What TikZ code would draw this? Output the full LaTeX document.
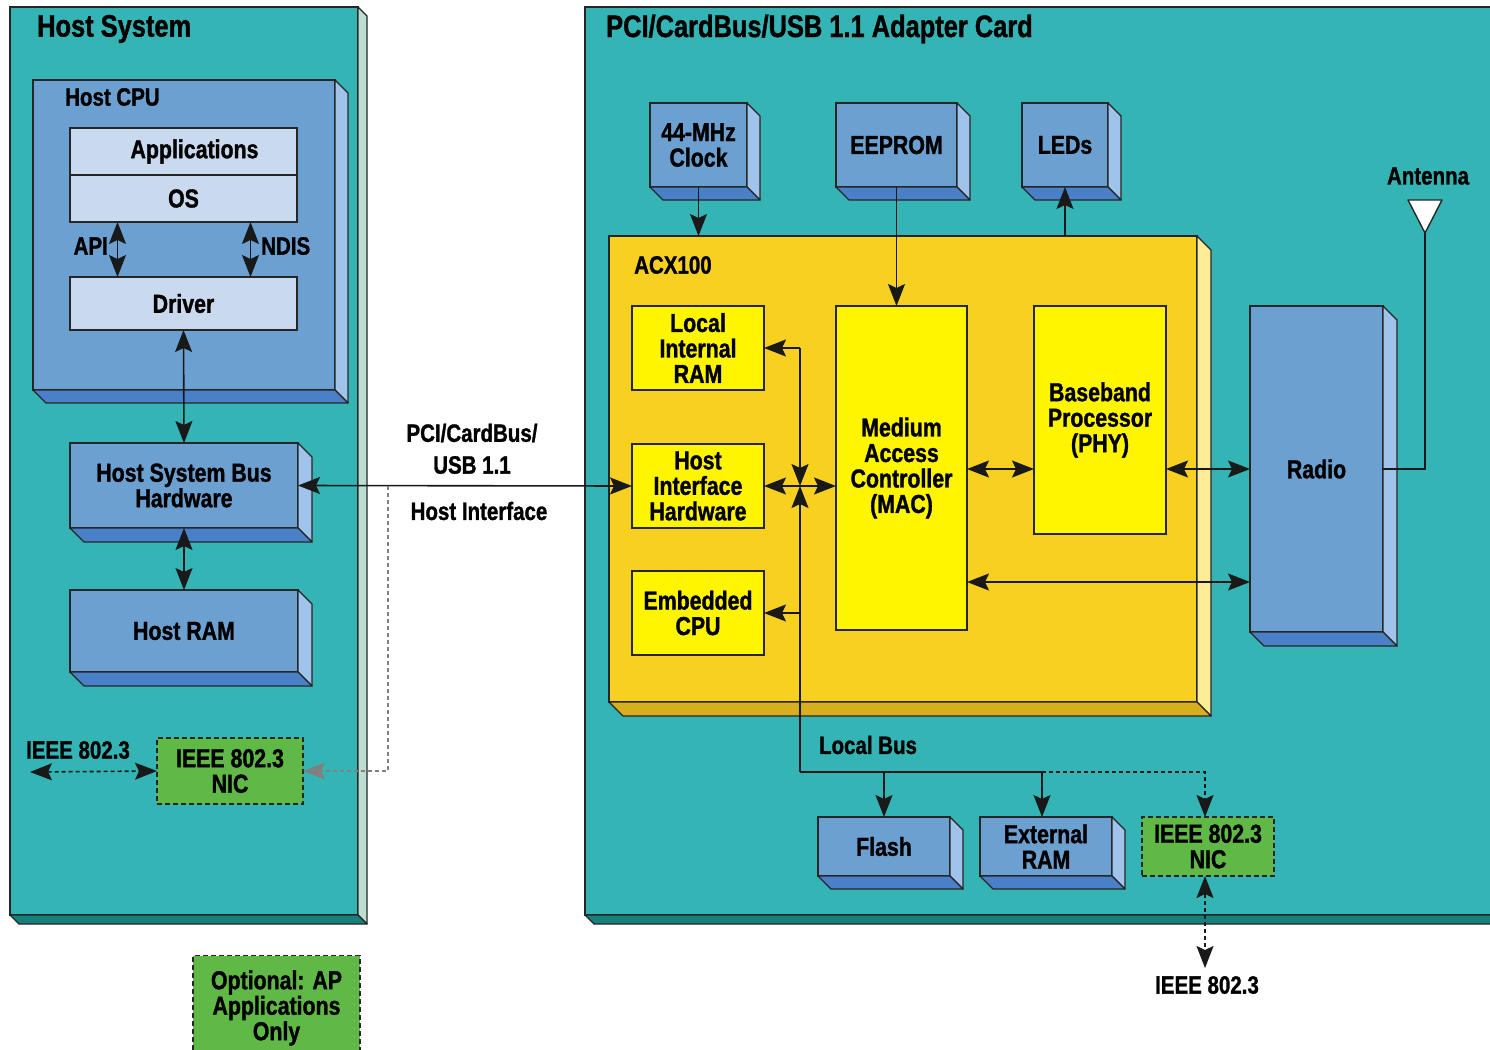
\documentclass[tikz,border=0pt]{standalone}
\usepackage{fontspec}
\setmainfont{Liberation Sans}[FakeStretch=0.82,BoldFeatures={FakeStretch=0.82,FakeBold=1.2}]
\usetikzlibrary{arrows.meta}
\definecolor{teal0}{RGB}{52,180,180}
\definecolor{tealside}{RGB}{190,222,212}
\definecolor{tealbot}{RGB}{22,128,122}
\definecolor{blue0}{RGB}{107,160,208}
\definecolor{blueside}{RGB}{160,195,235}
\definecolor{bluebot}{RGB}{74,128,200}
\definecolor{lightb}{RGB}{202,218,238}
\definecolor{gold0}{RGB}{248,208,32}
\definecolor{goldside}{RGB}{255,236,150}
\definecolor{goldbot}{RGB}{214,174,30}
\definecolor{yel0}{RGB}{255,245,0}
\definecolor{green0}{RGB}{96,185,70}
\newcommand\fTitle{\fontsize{31}{31}\selectfont\bfseries}
\newcommand\fBox{\fontsize{26}{25.5}\selectfont\bfseries}
\newcommand\fLab{\fontsize{25}{25}\selectfont\bfseries}
\newcommand\mkfaces[4]{%
  \draw[face,fill=#3] (#1.north east) -- ++(#2,#2) -- ([shift={(#2,#2)}]#1.south east) -- (#1.south east) -- cycle;
  \draw[face,fill=#4] (#1.south west) -- ([shift={(#2,#2)}]#1.south west) -- ([shift={(#2,#2)}]#1.south east) -- (#1.south east) -- cycle;}
\tikzset{
  face/.style={draw=black!85,line width=1.3pt,line join=round},
  blk/.style={draw=black!85,line width=1.4pt,outer sep=0pt,inner sep=0pt,align=center,font=\fBox},
  panel/.style={blk,line width=1.8pt,fill=teal0},
  cpubox/.style={blk,fill=blue0},
  lbox/.style={blk,fill=lightb},
  bbox/.style={blk,fill=blue0},
  acxbox/.style={blk,fill=gold0},
  ybox/.style={blk,fill=yel0},
  gbox/.style={blk,fill=green0,dashed,dash pattern=on 5pt off 3pt},
  lab/.style={font=\fLab,inner sep=0pt,align=center},
  ln/.style={line width=1.6pt,draw=black!90},
  arr/.style={ln,-{Stealth[length=22pt,width=17pt,inset=4pt]}},
  arr2/.style={ln,{Stealth[length=22pt,width=17pt,inset=4pt]}-{Stealth[length=22pt,width=17pt,inset=4pt]}},
  darr/.style={arr2,dashed,dash pattern=on 4pt off 3pt},
}
\begin{document}
\begin{tikzpicture}[x=1pt,y=-1pt]
\useasboundingbox[fill=white] (0,0) rectangle (1490,1049);
% panels
\node[panel,minimum width=348,minimum height=908] (hostsys) at (184,461) {};
\mkfaces{hostsys}{9}{tealside}{tealbot}
\node[panel,minimum width=915,minimum height=908] (card) at (1042.5,461) {};
\mkfaces{card}{9}{tealside}{tealbot}
\node[lab,font=\fTitle,anchor=west] (tHost) at (37,29) {Host System};
\node[lab,font=\fTitle,anchor=west] (tCard) at (606,29) {PCI/CardBus/USB 1.1 Adapter Card};
% host CPU
\node[cpubox,minimum width=302,minimum height=310] (cpu) at (184,235) {};
\mkfaces{cpu}{13}{blueside}{bluebot}
\node[lab,anchor=west] (tCPU) at (65,97) {Host CPU};
\node[lbox,minimum width=227,minimum height=47] (apps) at (183.5,151.5) {\hspace*{22pt}Applications};
\node[lbox,minimum width=227,minimum height=47] (os) at (183.5,198.5) {OS};
\node[lbox,minimum width=227,minimum height=53] (drv) at (183.5,303.5) {Driver};
\draw[arr2] ([xshift=-66pt]os.south) -- ([xshift=-66pt]drv.north);
\draw[arr2] ([xshift=67pt]os.south) -- ([xshift=67pt]drv.north);
\node[lab,anchor=east] (tAPI) at (108,246) {API};
\node[lab,anchor=west] (tNDIS) at (261,246) {NDIS};
% host bus, RAM
\node[bbox,minimum width=228,minimum height=85] (hsb) at (184,485.5) {Host System Bus\\Hardware};
\mkfaces{hsb}{14}{blueside}{bluebot}
\node[bbox,minimum width=228,minimum height=82] (hram) at (184,631) {Host RAM};
\mkfaces{hram}{14}{blueside}{bluebot}
\draw[arr2] (drv.south) -- (hsb.north);
\draw[arr2] (hsb.south) -- (hram.north);
% host NIC
\node[gbox,minimum width=146,minimum height=66] (nic1) at (230,771) {IEEE 802.3\\NIC};
\coordinate (ieL) at (30,772);
\draw[darr] (ieL) -- (nic1.west);
\node[lab] (tIEL) at (78,750) {IEEE 802.3};
% optional legend
\node[gbox,minimum width=167,minimum height=105] (opt) at (276.5,1008) {Optional: AP\\Applications\\Only};
% adapter card top parts
\node[bbox,minimum width=97,minimum height=84] (clk) at (698.5,145) {44-MHz\\Clock};
\mkfaces{clk}{13}{blueside}{bluebot}
\node[bbox,minimum width=121,minimum height=84] (eep) at (896.5,145) {EEPROM};
\mkfaces{eep}{13}{blueside}{bluebot}
\node[bbox,minimum width=86,minimum height=84] (leds) at (1065,145) {LEDs};
\mkfaces{leds}{13}{blueside}{bluebot}
% ACX100
\node[acxbox,minimum width=588,minimum height=466] (acx) at (903,469) {};
\mkfaces{acx}{14}{goldside}{goldbot}
\node[lab,anchor=west] (tACX) at (634,265) {ACX100};
\node[ybox,minimum width=132,minimum height=84] (lram) at (698,348) {Local\\Internal\\RAM};
\node[ybox,minimum width=132,minimum height=84] (hih) at (698,486) {Host\\Interface\\Hardware};
\node[ybox,minimum width=132,minimum height=84] (ecpu) at (698,613) {Embedded\\CPU};
\node[ybox,minimum width=131,minimum height=324] (mac) at (901.5,468) {Medium\\Access\\Controller\\(MAC)};
\node[ybox,minimum width=132,minimum height=228] (bb) at (1100,420) {Baseband\\Processor\\(PHY)};
% radio
\node[bbox,minimum width=133,minimum height=326] (radio) at (1316.5,469) {Radio};
\mkfaces{radio}{14}{blueside}{bluebot}
% antenna
\coordinate (ant) at (1425,233);
\draw[face,fill=white,line width=1.4pt] (1408,200) -- (1442,200) -- (ant) -- cycle;
\node[lab] (tAnt) at (1428,176) {Antenna};
\draw[ln] (radio.east) -| (ant);
% top arrows
\draw[arr] (clk.south) -- (clk.south |- acx.north);
\draw[arr] (eep.south) -- (eep.south |- mac.north);
\draw[arr] (leds.south |- acx.north) -- (leds.south);
% internal bus
\coordinate (bt) at (800,348);
\coordinate (bx) at (800,486);
\coordinate (bc) at (800,613);
\coordinate (lb) at (800,772);
\coordinate (lb2) at (1042,772);
\coordinate (lb3) at (1205,772);
\coordinate (mr) at (0,582);
\draw[arr] (bt) -- (lram.east);
\draw[arr] (bt) -- (bx);
\draw[arr] (lb) -- (bx);
\draw[arr] (bc) -- (ecpu.east);
\draw[arr2] (hih.east) -- (mac.west |- hih.east);
\draw[arr2] (mac.east |- radio.west) -- (bb.west |- radio.west);
\draw[arr2] (bb.east |- radio.west) -- (radio.west);
\draw[arr2] (mac.east |- mr) -- (radio.west |- mr);
% host interface
\draw[arr2] (hsb.east) -- (hih.west);
\coordinate (gd) at (388,486);
\draw[arr,draw=black!50,dashed,dash pattern=on 4pt off 3pt] (gd) |- (nic1.east);
\node[lab] (tPCI) at (472,433) {PCI/CardBus/};
\node[lab] (tUSB) at (472,465) {USB 1.1};
\node[lab] (tHI) at (479,511) {Host Interface};
% local bus devices
\node[bbox,minimum width=132,minimum height=59] (flash) at (884,846.5) {Flash};
\mkfaces{flash}{13}{blueside}{bluebot}
\node[bbox,minimum width=132,minimum height=59] (xram) at (1046,846.5) {External\\RAM};
\mkfaces{xram}{13}{blueside}{bluebot}
\node[gbox,minimum width=132,minimum height=59] (nic2) at (1208,846.5) {IEEE 802.3\\NIC};
\node[lab] (tLB) at (868,745) {Local Bus};
\draw[ln] (lb) -- (lb2);
\draw[arr] (lb -| flash.north) -- (flash.north);
\draw[arr] (lb2) -- (lb2 |- xram.north);
\draw[arr,dashed,dash pattern=on 4pt off 3pt] (lb2) -- (lb3) -- (lb3 |- nic2.north);
\coordinate (ieR) at (1205,968);
\draw[darr] (lb3 |- nic2.south) -- (ieR);
\node[lab] (tIER) at (1207,985) {IEEE 802.3};
\end{tikzpicture}
\end{document}
